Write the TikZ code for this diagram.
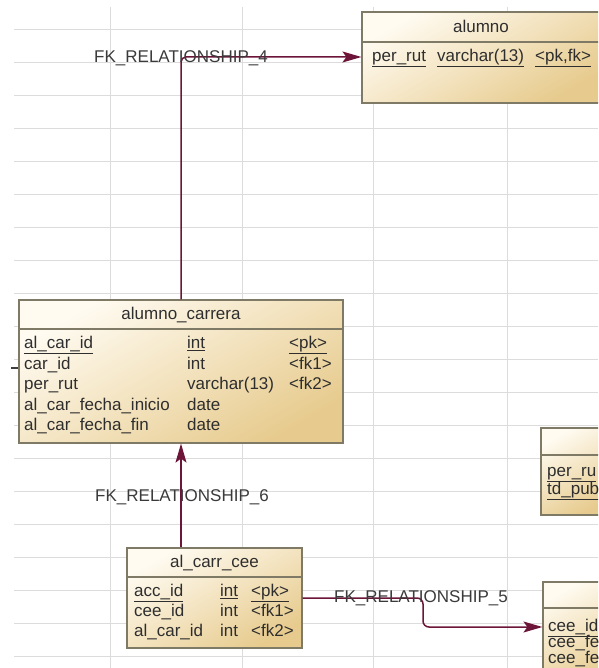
\documentclass[tikz,border=0pt]{standalone}
\usepackage{fontspec}
\setmainfont{Liberation Sans}
\usetikzlibrary{calc,arrows.meta}
\definecolor{egrid}{HTML}{DCDCDC}
\definecolor{elight}{HTML}{FFFBF1}
\definecolor{edark}{HTML}{E7CB8E}
\definecolor{eedge}{HTML}{7E7A66}
\definecolor{efk}{HTML}{6C1539}
\definecolor{etext}{HTML}{2E2E2E}
\definecolor{elabel}{HTML}{3A3A3A}

\begin{document}
\begin{tikzpicture}[x=1pt, y=-1pt, >={Stealth[length=19pt,width=11pt,inset=4pt]},
    font=\fontsize{17}{20}\selectfont,
    tablebox/.style={draw=eedge, line width=1.2pt, inner sep=0pt,
      top color=elight, bottom color=edark, shading angle=30},
    sepline/.style={draw=eedge, line width=1.2pt},
    cell/.style={anchor=west, inner sep=0pt, text=etext, text height=12pt, text depth=3pt},
    heading/.style={inner sep=0pt, text=etext, text height=12pt, text depth=3pt},
    fk/.style={draw=efk, line width=1.5pt, ->},
    fklabel/.style={inner sep=0pt, text=elabel}]
  \useasboundingbox (0,0) rectangle (598,668);
  \clip (0,0) rectangle (598,668);

  % canvas grid
  \foreach \gy in {29,62,...,656}
    \draw[egrid] (14,\gy) -- (598,\gy);
  \foreach \gx in {110,242,373,507}
    \draw[egrid] (\gx,7) -- (\gx,668);

  % table alumno (runs off the right edge)
  \node[tablebox, minimum width=238pt, minimum height=91pt] (alumno) at (481,57.5) {};
  \draw[sepline] (alumno.west |- 0,42) -- (alumno.east |- 0,42);
  \node[heading] (alumnotitle) at (481,28) {alumno};
  \node[cell] (alumnorut) at (372,57) {\underline{per\_rut}};
  \node[cell] (alumnotype) at (437,57) {\underline{varchar(13)}};
  \node[cell] (alumnokey) at (535,57) {\underline{<pk,fk>}};

  % table alumno_carrera
  \node[tablebox, minimum width=324pt, minimum height=143pt] (alcarrera) at (181,371.5) {};
  \draw[sepline] (alcarrera.west |- 0,329) -- (alcarrera.east |- 0,329);
  \node[heading] (alcarreratitle) at (181,315) {alumno\_carrera};
  \node[cell] (acname1) at (24,344) {\underline{al\_car\_id}};
  \node[cell] (actype1) at (187,344) {\underline{int}};
  \node[cell] (ackey1) at (289,344) {\underline{<pk>}};
  \node[cell] (acname2) at (24,364.5) {car\_id};
  \node[cell] (actype2) at (187,364.5) {int};
  \node[cell] (ackey2) at (289,364.5) {<fk1>};
  \node[cell] (acname3) at (24,385) {per\_rut};
  \node[cell] (actype3) at (187,385) {varchar(13)};
  \node[cell] (ackey3) at (289,385) {<fk2>};
  \node[cell] (acname4) at (24,405.5) {al\_car\_fecha\_inicio};
  \node[cell] (actype4) at (187,405.5) {date};
  \node[cell] (acname5) at (24,426) {al\_car\_fecha\_fin};
  \node[cell] (actype5) at (187,426) {date};

  % table al_carr_cee
  \node[tablebox, minimum width=175pt, minimum height=100pt] (alcarrcee) at (214.5,598) {};
  \draw[sepline] (alcarrcee.west |- 0,577) -- (alcarrcee.east |- 0,577);
  \node[heading] (alcarrceetitle) at (214.5,563) {al\_carr\_cee};
  \node[cell] (ccname1) at (134,592) {\underline{acc\_id}};
  \node[cell] (cctype1) at (220,592) {\underline{int}};
  \node[cell] (cckey1) at (251,592) {\underline{<pk>}};
  \node[cell] (ccname2) at (134,612) {cee\_id};
  \node[cell] (cctype2) at (220,612) {int};
  \node[cell] (cckey2) at (251,612) {<fk1>};
  \node[cell] (ccname3) at (134,632) {al\_car\_id};
  \node[cell] (cctype3) at (220,632) {int};
  \node[cell] (cckey3) at (251,632) {<fk2>};

  % partly visible tables on the right
  \node[tablebox, minimum width=69pt, minimum height=87pt] (tdbox) at (575.5,471.5) {};
  \draw[sepline] (tdbox.west |- 0,455) -- (tdbox.east |- 0,455);
  \node[cell] (tdrut) at (547,472) {\underline{per\_ru}};
  \node[cell] (tdpub) at (547,490) {\underline{td\_pub}};

  \node[tablebox, minimum width=67pt, minimum height=108pt] (ceebox) at (576.5,636) {};
  \draw[sepline] (ceebox.west |- 0,608) -- (ceebox.east |- 0,608);
  \node[cell] (ceeid) at (548,627) {\underline{cee\_id}};
  \node[cell] (ceefa) at (548,643) {cee\_fe};
  \node[cell] (ceefb) at (548,659) {cee\_fe};

  % FK_RELATIONSHIP_4
  \draw[fk, rounded corners=5pt] (alcarrera.north) |- (alumno.west |- alumnorut);
  \node[fklabel] (fkfour) at (181,58) {FK\_RELATIONSHIP\_4};

  % FK_RELATIONSHIP_6
  \draw[fk] (alcarrcee.north -| alcarrera.south) -- (alcarrera.south);
  \node[fklabel] (fksix) at (182,497) {FK\_RELATIONSHIP\_6};

  % FK_RELATIONSHIP_5
  \coordinate (fivebend) at (423,614);
  \draw[fk, rounded corners=6pt] (alcarrcee.east) -| (fivebend) |- (ceebox.west |- ceeid);
  \node[fklabel] (fkfive) at (421,598) {FK\_RELATIONSHIP\_5};

  % stub of a link from off the canvas
  \coordinate (stubend) at (11,368);
  \draw[black!75, line width=1.2pt] (stubend) -- (alcarrera.west |- stubend);
\end{tikzpicture}
\end{document}
